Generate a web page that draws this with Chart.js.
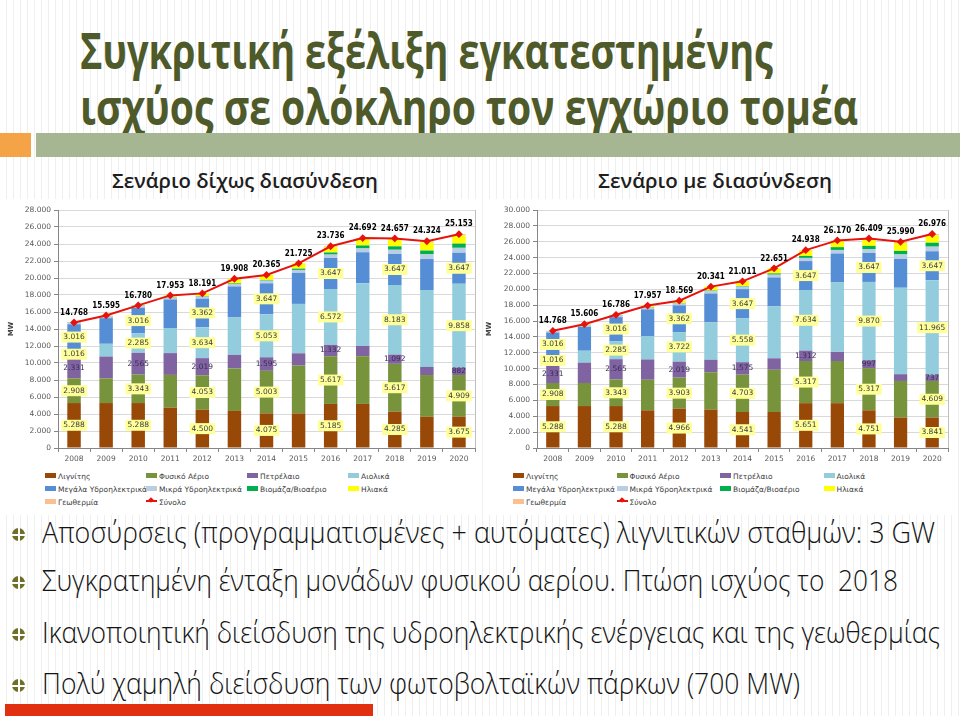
<!DOCTYPE html>
<html lang="el">
<head>
<meta charset="UTF-8">
<title>Συγκριτική εξέλιξη εγκατεστημένης ισχύος</title>
<script src="https://cdn.jsdelivr.net/npm/chart.js"></script>
<style>
  html, body { margin: 0; padding: 0; }
  body {
    width: 960px; height: 716px; overflow: hidden; position: relative;
    font-family: "Open Sans", "Noto Sans", sans-serif;
    background: repeating-linear-gradient(90deg, #ffffff 0 6px, #efefef 6px 7px);
  }
  .fit { position: absolute; white-space: nowrap; transform-origin: left top; }
  .titre { left: 80px; font-weight: 700; font-size: 50px; color: #4e5a29; line-height: 1; }
  .carre { position: absolute; left: 0; top: 133px; width: 31px; height: 24px; background: #f4a347; }
  .bande { position: absolute; left: 36px; top: 133px; width: 924px; height: 24px; background: #a6b592; }
  .sous { font-weight: 600; font-size: 20px; color: #1e1e1e; line-height: 1; }
  .boite { position: absolute; top: 199px; height: 316px; background: #fff; }
  .boite canvas { position: absolute; left: 0; top: 1px; }
  .legende { position: absolute; top: 273px; font-family: "DejaVu Sans", sans-serif; font-size: 7.5px; color: #404040; }
  .item { position: absolute; white-space: nowrap; line-height: 10px; }
  .item i { display: inline-block; width: 11px; height: 5px; margin-right: 2px; vertical-align: 1px; }
  .puce { font-size: 30px; font-weight: 300; color: #141414; line-height: 1; left: 42px; }
  .rond { position: absolute; left: 12px; width: 13px; height: 13px; border-radius: 50%;
    background:
      linear-gradient(#fff, #fff) center / 2px 100% no-repeat,
      linear-gradient(#fff, #fff) center / 100% 2px no-repeat,
      #6f6f28; }
  .rouge { position: absolute; left: 5px; top: 704px; width: 368px; height: 12px; background: #e0300f; }
</style>
</head>
<body>

<div class="fit titre" data-w="693" style="top:25px">Συγκριτική εξέλιξη εγκατεστημένης</div>
<div class="fit titre" data-w="778" style="top:81px">ισχύος σε ολόκληρο τον εγχώριο τομέα</div>
<div class="carre"></div>
<div class="bande"></div>

<div class="fit sous" data-w="266" style="left:112px; top:171px">Σενάριο δίχως διασύνδεση</div>
<div class="fit sous" data-w="234" style="left:598px; top:171px">Σενάριο με διασύνδεση</div>

<div class="boite" style="left:5px; width:476px">
  <canvas id="chartSans" width="476" height="268"></canvas>
  <div class="legende" id="legSans"></div>
</div>
<div class="boite" style="left:483px; width:475px">
  <canvas id="chartAvec" width="475" height="268"></canvas>
  <div class="legende" id="legAvec"></div>
</div>

<div class="rond" style="top:528px"></div>
<div class="fit puce" data-w="893" style="top:517px">Αποσύρσεις (προγραμματισμένες + αυτόματες) λιγνιτικών σταθμών: 3 GW</div>
<div class="rond" style="top:576px"></div>
<div class="fit puce" data-w="856" style="top:565px">Συγκρατημένη ένταξη μονάδων φυσικού αερίου. Πτώση ισχύος το&nbsp; 2018</div>
<div class="rond" style="top:628px"></div>
<div class="fit puce" data-w="898" style="top:617px">Ικανοποιητική διείσδυση της υδροηλεκτρικής ενέργειας και της γεωθερμίας</div>
<div class="rond" style="top:679px"></div>
<div class="fit puce" data-w="758" style="top:668px">Πολύ χαμηλή διείσδυση των φωτοβολταϊκών πάρκων (700 MW)</div>
<div class="rouge"></div>

<script>
  // === Données ===
  const annees = ["2008", "2009", "2010", "2011", "2012", "2013", "2014", "2015", "2016", "2017", "2018", "2019", "2020"];
  const noms = ["Λιγνίτης", "Φυσικό Αέριο", "Πετρέλαιο", "Αιολικά", "Μεγάλα Υδροηλεκτρικά",
                "Μικρά Υδροηλεκτρικά", "Βιομάζα/Βιοαέριο", "Ηλιακά", "Γεωθερμία"];
  const nomTotal = "Σύνολο";

  // scénario sans interconnexion
  const lignitisA   = [5288, 5288, 5288, 4750, 4500, 4360, 4075, 4075, 5185, 5185, 4285, 3675, 3675];
  const aerioA      = [2908, 2908, 3343, 3850, 4053, 5003, 5003, 5617, 5617, 5617, 5617, 4909, 4909];
  const petrelaioA  = [2331, 2565, 2565, 2565, 2019, 1595, 1595, 1450, 1332, 1200, 1092, 950, 882];
  const aiolikaA    = [1016, 1500, 2285, 2950, 3634, 4400, 5053, 5810, 6572, 7380, 8183, 9050, 9858];
  const megalaA     = [3016, 3016, 3016, 3362, 3362, 3647, 3647, 3647, 3647, 3647, 3647, 3647, 3647];
  const mikraA      = [160, 200, 200, 230, 250, 300, 320, 350, 400, 450, 500, 550, 580];
  const viomazaA    = [40, 50, 50, 50, 60, 70, 80, 150, 250, 350, 400, 450, 500];
  const iliakaA     = [9, 68, 33, 196, 313, 533, 592, 626, 650, 763, 833, 943, 952];
  const geothermiaA = [0, 0, 0, 0, 0, 0, 0, 0, 83, 100, 100, 150, 150];
  const synoloA     = [14768, 15595, 16780, 17953, 18191, 19908, 20365, 21725, 23736, 24692, 24657, 24324, 25153];

  // scénario avec interconnexion
  const lignitisB   = [5288, 5288, 5288, 4750, 4966, 4850, 4541, 4541, 5651, 5651, 4751, 3841, 3841];
  const aerioB      = [2908, 2908, 3343, 3850, 3903, 4703, 4703, 5317, 5317, 5317, 5317, 4609, 4609];
  const petrelaioB  = [2331, 2565, 2565, 2565, 2019, 1575, 1575, 1450, 1312, 1150, 997, 850, 737];
  const aiolikaB    = [1016, 1500, 2285, 2950, 3722, 4700, 5558, 6540, 7634, 8750, 9870, 10900, 11965];
  const megalaB     = [3016, 3016, 3016, 3362, 3362, 3647, 3647, 3647, 3647, 3647, 3647, 3647, 3647];
  const mikraB      = [160, 200, 200, 230, 250, 300, 320, 350, 400, 450, 500, 550, 580];
  const viomazaB    = [40, 50, 50, 50, 60, 70, 80, 150, 250, 350, 400, 450, 500];
  const iliakaB     = [9, 79, 39, 200, 287, 496, 587, 656, 650, 755, 827, 993, 947];
  const geothermiaB = [0, 0, 0, 0, 0, 0, 0, 0, 77, 100, 100, 150, 150];
  const synoloB     = [14768, 15606, 16786, 17957, 18569, 20341, 21011, 22651, 24938, 26170, 26409, 25990, 26976];

  // === Couleurs ===
  const couleurs = ["#984807", "#77933c", "#8064a2", "#93cddd", "#558ed5",
                    "#b9cde5", "#00b050", "#ffff00", "#fac090"];
  const rouge = "#e8120c";

  const fmt = n => String(n).replace(/\B(?=(\d{3})+(?!\d))/g, ".");

  // étiquettes : lignite, gaz, pétrole, éolien, grande hydro, une année sur deux
  const etiquettes = {
    id: "etiquettes",
    afterDatasetsDraw(chart) {
      const ctx = chart.ctx;
      ctx.save();
      ctx.textAlign = "center";
      ctx.textBaseline = "middle";
      chart.data.datasets.forEach((ds, di) => {
        const meta = chart.getDatasetMeta(di);
        if (ds.type === "line") {
          ctx.font = 'bold 8.5px "DejaVu Sans", sans-serif';
          ctx.fillStyle = "#000";
          meta.data.forEach((pt, i) => {
            ctx.save();
            ctx.translate(pt.x, pt.y - 10);
            ctx.scale(0.85, 1);
            ctx.fillText(fmt(ds.data[i]), 0, 0);
            ctx.restore();
          });
          return;
        }
        if (di > 4) return;
        ctx.font = '7.5px "DejaVu Sans", sans-serif';
        meta.data.forEach((bar, i) => {
          if (i % 2) return;
          const y = (bar.y + bar.base) / 2;
          const txt = fmt(ds.data[i]);
          if (di === 2) {
            ctx.fillStyle = "#3a2d55";
            ctx.fillText(txt, bar.x, y);
          } else {
            const w = ctx.measureText(txt).width + 4;
            ctx.fillStyle = "#ffff99";
            ctx.fillRect(bar.x - w / 2, y - 5.5, w, 11);
            ctx.fillStyle = "#3a3a3a";
            ctx.fillText(txt, bar.x, y);
          }
        });
      });
      // bordure droite de la zone de tracé
      const a = chart.chartArea;
      ctx.strokeStyle = "#bfbfbf";
      ctx.lineWidth = 1;
      ctx.beginPath();
      ctx.moveTo(Math.round(a.right) + 0.5, a.top);
      ctx.lineTo(Math.round(a.right) + 0.5, a.bottom);
      ctx.stroke();
      ctx.restore();
    }
  };

  Chart.defaults.font.family = '"DejaVu Sans", sans-serif';
  Chart.defaults.font.size = 7.5;
  Chart.defaults.color = "#595959";

  function graphique(id, series, total, maxY, axeLargeur, margeDroite) {
    const datasets = series.map((d, i) => ({
      label: noms[i],
      data: d,
      backgroundColor: couleurs[i],
      stack: "mix",
      order: 1,
      barPercentage: 0.42,
      categoryPercentage: 1
    }));
    datasets.push({
      type: "line",
      label: nomTotal,
      data: total,
      stack: "total",
      order: 0,
      borderColor: rouge,
      borderWidth: 2,
      pointStyle: "rectRot",
      pointRadius: 2.5,
      pointBackgroundColor: rouge,
      pointBorderColor: rouge,
      tension: 0
    });
    new Chart(document.getElementById(id), {
      type: "bar",
      data: { labels: annees, datasets },
      options: {
        responsive: false,
        animation: false,
        layout: { padding: { top: 10, right: margeDroite, bottom: 0, left: 0 } },
        plugins: { legend: { display: false }, tooltip: { enabled: false } },
        scales: {
          x: {
            stacked: true,
            grid: { drawOnChartArea: false, offset: true, tickLength: 4, color: "#868686" },
            border: { color: "#868686" },
            ticks: { padding: 3, font: { size: 7.5 } },
            afterFit: s => { s.height = 20; }
          },
          y: {
            stacked: true,
            min: 0, max: maxY,
            ticks: { stepSize: 2000, callback: v => fmt(v), padding: 3 },
            grid: { color: "#d9d9d9", tickColor: "#868686", tickLength: 4 },
            border: { color: "#868686" },
            title: { display: true, text: "MW", font: { size: 7, weight: "bold" }, color: "#404040", padding: 2 },
            afterFit: s => { s.width = axeLargeur; }
          }
        }
      },
      plugins: [etiquettes]
    });
  }

  graphique("chartSans",
    [lignitisA, aerioA, petrelaioA, aiolikaA, megalaA, mikraA, viomazaA, iliakaA, geothermiaA],
    synoloA, 28000, 53, 5);
  graphique("chartAvec",
    [lignitisB, aerioB, petrelaioB, aiolikaB, megalaB, mikraB, viomazaB, iliakaB, geothermiaB],
    synoloB, 30000, 54, 10);

  // === Légendes HTML (grille 4 colonnes) ===
  function legende(id, x0, pas) {
    const el = document.getElementById(id);
    const items = noms.map((n, i) => ({ n, c: couleurs[i] }));
    items.push({ n: nomTotal, c: null });
    items.forEach((it, k) => {
      const d = document.createElement("div");
      d.className = "item";
      d.style.left = (x0 + (k % 4) * pas) + "px";
      d.style.top = (Math.floor(k / 4) * 13) + "px";
      const sw = it.c
        ? `<i style="background:${it.c}"></i>`
        : `<i style="height:2px;vertical-align:3px;background:${rouge};position:relative"><b style="position:absolute;left:3px;top:-2px;width:4px;height:4px;background:${rouge};transform:rotate(45deg)"></b></i>`;
      d.innerHTML = sw + it.n;
      el.appendChild(d);
    });
  }
  legende("legSans", 40, 101);
  legende("legAvec", 30, 103.5);

  // ajustement des largeurs de texte
  document.querySelectorAll(".fit").forEach(el => {
    const w = el.getBoundingClientRect().width;
    el.style.transform = `scaleX(${el.dataset.w / w})`;
  });
</script>

</body>
</html>
